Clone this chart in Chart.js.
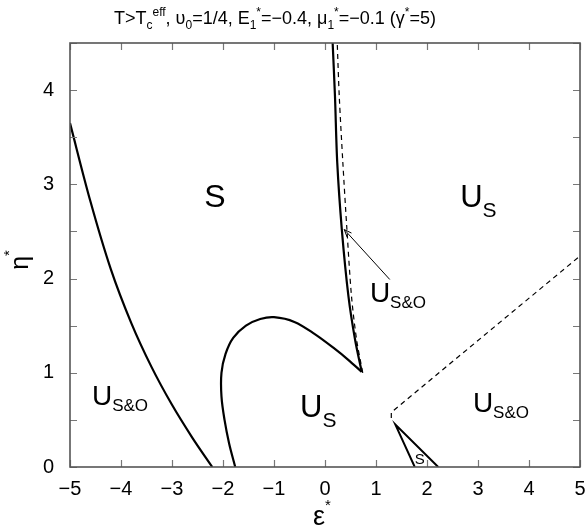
<!DOCTYPE html>
<html>
<head>
<meta charset="utf-8">
<script src="https://cdn.jsdelivr.net/npm/chart.js@4.4.0/dist/chart.umd.min.js"></script>
<style>
html, body { margin: 0; padding: 0; background: #fff; }
</style>
</head>
<body>
<canvas id="myChart" width="585" height="531"></canvas>
<script>
// phase boundaries (eps*, eta*)
let left_x = [-5, -4.6, -4.2, -3.8, -3.4, -3.0, -2.6, -2.21]
let left_y = [3.65, 2.82, 2.10, 1.53, 1.06, 0.66, 0.31, 0]

let loop_x = [-1.76, -1.88, -1.97, -2.03, -2.03, -1.95, -1.8, -1.55, -1.27, -1.0, -0.6, -0.2, 0.2, 0.45, 0.72]
let loop_y = [0, 0.25, 0.5, 0.75, 1.0, 1.2, 1.37, 1.5, 1.57, 1.59, 1.54, 1.41, 1.25, 1.14, 1.01]

let upper_x = [0.72, 0.59, 0.46, 0.33, 0.24, 0.196, 0.15]
let upper_y = [1.01, 1.35, 1.81, 2.52, 3.23, 3.93, 4.5]

let dash_x = [0.74, 0.62, 0.52, 0.43, 0.35, 0.28, 0.24]
let dash_y = [1.0, 1.35, 1.81, 2.52, 3.23, 3.93, 4.5]

let dash2_x = [1.3, 1.3, 5]
let dash2_y = [0.52, 0.58, 2.24]

let tri_x = [1.76, 1.38, 2.22]
let tri_y = [0, 0.45, 0]

let arrow_x = [1.27, 0.378]
let arrow_y = [1.99, 2.52]

let x_ticks = [-5, -4, -3, -2, -1, 0, 1, 2, 3, 4, 5]
let y_ticks = [0, 1, 2, 3, 4]

// region names: [main, subscript, eps, eta, size, sub size]
let notes = [
    ['S', '', -2.37, 2.76, 32, 0],
    ['U', 'S', 2.65, 2.76, 31, 21],
    ['U', 'S', -0.49, 0.53, 31, 21],
    ['U', 'S&O', -4.57, 0.66, 28, 17],
    ['U', 'S&O', 2.90, 0.58, 28, 17],
    ['U', 'S&O', 0.88, 1.75, 28, 17],
    ['S', '', 1.76, 0.035, 15, 0]
]

const FONT = '"Liberation Sans", Arial, sans-serif'

function pts(xs, ys) {
    return xs.map((x, i) => ({ x: x, y: ys[i] }))
}

function line(xs, ys, w, dash, tension) {
    return {
        data: pts(xs, ys),
        showLine: true,
        borderColor: '#000',
        borderWidth: w,
        borderDash: dash,
        pointRadius: 0,
        tension: tension,
        fill: false
    }
}

function minus(v) {
    return v < 0 ? '\u2212' + Math.abs(v) : '' + v
}

// draw text pieces one after another, [text, size, dy]
function rich(ctx, x, y, parts, center) {
    let w = 0
    for (let p of parts) {
        ctx.font = p[1] + 'px ' + FONT
        w += ctx.measureText(p[0]).width
    }
    let cx = center ? x - w / 2 : x
    ctx.textAlign = 'left'
    ctx.textBaseline = 'alphabetic'
    for (let p of parts) {
        ctx.font = p[1] + 'px ' + FONT
        ctx.fillText(p[0], cx, y + p[2])
        cx += ctx.measureText(p[0]).width
    }
    return w
}

const decor = {
    id: 'decor',
    afterDatasetsDraw(chart) {
        let ctx = chart.ctx
        let a = chart.chartArea
        let xs = chart.scales.x
        let ys = chart.scales.y
        ctx.save()

        // inward ticks on all four sides
        ctx.strokeStyle = '#777'
        ctx.lineWidth = 1.2
        ctx.beginPath()
        for (let v of x_ticks) {
            let px = Math.round(xs.getPixelForValue(v)) + 0.5
            ctx.moveTo(px, a.bottom); ctx.lineTo(px, a.bottom - 7)
            ctx.moveTo(px, a.top); ctx.lineTo(px, a.top + 7)
        }
        for (let v = 0; v <= 4.5; v += 0.5) {
            let py = Math.round(ys.getPixelForValue(v)) + 0.5
            ctx.moveTo(a.left, py); ctx.lineTo(a.left + 7, py)
            ctx.moveTo(a.right, py); ctx.lineTo(a.right - 7, py)
        }
        ctx.stroke()

        // frame
        ctx.strokeStyle = '#555'
        ctx.lineWidth = 1.6
        ctx.strokeRect(a.left, a.top, a.right - a.left, a.bottom - a.top)

        // arrow head
        let p0 = [xs.getPixelForValue(arrow_x[0]), ys.getPixelForValue(arrow_y[0])]
        let p1 = [xs.getPixelForValue(arrow_x[1]), ys.getPixelForValue(arrow_y[1])]
        let ang = Math.atan2(p0[1] - p1[1], p0[0] - p1[0])
        ctx.strokeStyle = '#000'
        ctx.lineWidth = 1
        ctx.beginPath()
        ctx.moveTo(p1[0] + 8 * Math.cos(ang + 0.38), p1[1] + 8 * Math.sin(ang + 0.38))
        ctx.lineTo(p1[0], p1[1])
        ctx.lineTo(p1[0] + 8 * Math.cos(ang - 0.38), p1[1] + 8 * Math.sin(ang - 0.38))
        ctx.stroke()

        // region labels
        ctx.fillStyle = '#000'
        for (let n of notes) {
            let px = xs.getPixelForValue(n[2])
            let py = ys.getPixelForValue(n[3])
            let parts = [[n[0], n[4], 0]]
            if (n[1]) parts.push([n[1], n[5], n[1] === 'S' ? 10 : 6])
            rich(ctx, px, py, parts, false)
        }

        // title
        rich(ctx, 275, 24, [
            ['T>T', 18, 0], ['c', 12, 5], ['eff', 12, -8],
            [', \u03c5', 18, 0], ['0', 12, 5],
            ['=1/4, E', 18, 0], ['1', 12, 5], ['*', 12, -8],
            ['=\u22120.4, \u03bc', 18, 0], ['1', 12, 5], ['*', 12, -8],
            ['=\u22120.1 (\u03b3', 18, 0], ['*', 12, -8], ['=5)', 18, 0]
        ], true)

        // axis titles
        rich(ctx, 322, 525, [['\u03b5', 27, 0], ['*', 15, -15]], true)
        ctx.translate(28, 260)
        ctx.rotate(-Math.PI / 2)
        rich(ctx, 0, 0, [['\u03b7', 25, 0], ['*', 15, -14]], true)

        ctx.restore()
    }
}

let ctx = document.getElementById('myChart').getContext('2d')

let myChart = new Chart(ctx, {
    type: 'scatter',
    data: {
        datasets: [
            line(left_x, left_y, 2.2, [], 0.35),
            line(loop_x, loop_y, 2.2, [], 0.35),
            line(upper_x, upper_y, 2.2, [], 0.3),
            line(dash_x, dash_y, 1.2, [5, 4], 0.3),
            line(dash2_x, dash2_y, 1.2, [5, 4], 0),
            line(tri_x, tri_y, 2, [], 0),
            line(arrow_x, arrow_y, 1, [], 0)
        ]
    },
    options: {
        responsive: false,
        animation: false,
        devicePixelRatio: 1,
        layout: { padding: { top: 43, right: 5, left: 0, bottom: 0 } },
        plugins: {
            legend: { display: false },
            title: { display: false },
            tooltip: { enabled: false }
        },
        scales: {
            x: {
                type: 'linear',
                min: -5,
                max: 5,
                grid: { display: false, drawTicks: false },
                border: { display: false },
                ticks: {
                    stepSize: 1,
                    padding: 10,
                    color: '#000',
                    font: { family: FONT, size: 20 },
                    callback: v => x_ticks.includes(v) ? minus(v) : ''
                },
                afterFit: s => { s.height = 64; s.paddingLeft = 0; s.paddingRight = 0 }
            },
            y: {
                type: 'linear',
                min: 0,
                max: 4.5,
                grid: { display: false, drawTicks: false },
                border: { display: false },
                ticks: {
                    stepSize: 0.5,
                    padding: 16,
                    color: '#000',
                    font: { family: FONT, size: 20 },
                    callback: v => y_ticks.includes(v) ? '' + v : ''
                },
                afterFit: s => { s.width = 70; s.paddingTop = 0; s.paddingBottom = 0 }
            }
        }
    },
    plugins: [decor]
})
</script>
</body>
</html>
